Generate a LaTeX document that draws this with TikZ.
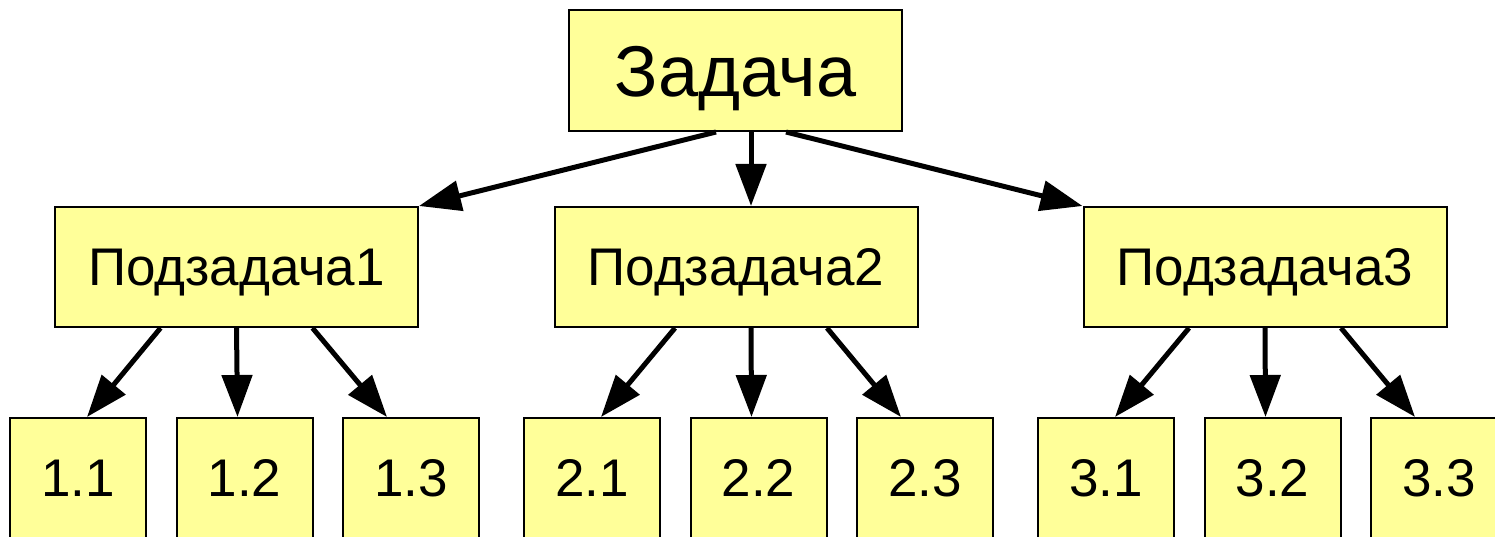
\documentclass[tikz,border=0pt]{standalone}
\usepackage{fontspec}
\setmainfont{Liberation Sans}
\usepackage{tikz}
\usetikzlibrary{arrows.meta}
\definecolor{boxyellow}{HTML}{FFFF99}

\begin{document}
\begin{tikzpicture}[x=1pt,y=-1pt]
        \tikzstyle{every node} = [rectangle, draw=black, line width=2pt, fill=boxyellow, inner sep=0pt, text depth=0pt]
        \tikzstyle{task} = [minimum width=333pt, minimum height=121pt, font=\fontsize{72}{72}\selectfont, text height=51.5pt]
        \tikzstyle{sub} = [minimum width=363pt, minimum height=120pt, font=\fontsize{53}{53}\selectfont, text height=37.9pt]
        \tikzstyle{leaf} = [minimum width=136pt, minimum height=120pt, font=\fontsize{53}{53}\selectfont, text height=37.9pt]
        \tikzstyle{arr} = [-{Triangle[length=42pt,width=30pt]}, line width=5pt]
        \useasboundingbox (0,0) rectangle (1495,537);
        \clip (0,0) rectangle (1495,537);
        \node[task] (z) at (735.5,70.5) {Задача};
        \node[sub] (p1) at (236.5,267) {Подзадача1};
        \node[sub] (p2) at (736,267) {Подзадача2};
        \node[sub] (p3) at (1265,267) {Подзадача3};
        \foreach \p/\x in {1/78, 2/592, 3/1106}
            \foreach \c in {1,2,3}
                \node[leaf] (c\p\c) at ({\x+(\c-1)*166.5},478) {\p.\c};
        \draw[arr] ([xshift=-19.5]z.south) -- (p1.north east);
        \draw[arr] ([xshift=15.5]z.south) -- ([xshift=15]p2.north);
        \draw[arr] ([xshift=50.5]z.south) -- (p3.north west);
        \foreach \p/\o in {1/0, 2/15, 3/0}
            \foreach \c/\s/\t in {1/-76/9, 2/0/-7, 3/76/-24}
                \draw[arr] ([xshift={\s+\o}]p\p.south) -- ([xshift=\t]c\p\c.north);
    \end{tikzpicture}
\end{document}
